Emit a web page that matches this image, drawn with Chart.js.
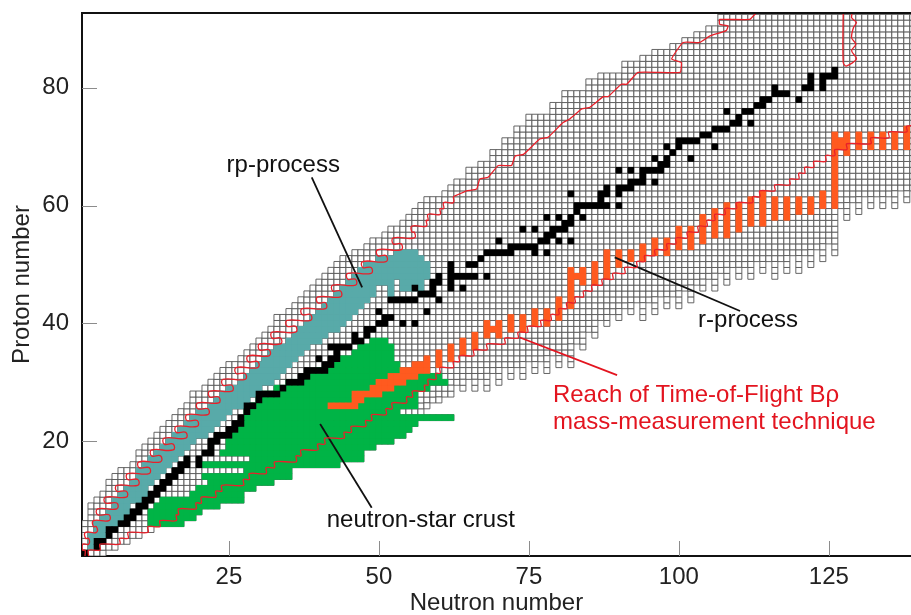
<!DOCTYPE html>
<html>
<head>
<meta charset="utf-8">
<script src="https://cdn.jsdelivr.net/npm/chart.js@4.4.1/dist/chart.umd.min.js"></script>
<style>
  html, body { margin: 0; padding: 0; background: #fff; }
</style>
</head>
<body>
<canvas id="chart" width="911" height="615"></canvas>
<script>
// ---------- data (N = neutron number, Z = proton number) ----------
const xTicks = [25, 50, 75, 100, 125];
const yTicks = [20, 40, 60, 80];

// known-nuclide grid, one entry per Z starting at Z = 1
const gridNMin = [1,1,1,1,1,1,2,2,2,3, 4,5,5,6,7,9,10,10,11,12, 13,14,15,16,17,18,19,19,21,22,
  23,24,25,27,28,29,30,31,32,33, 33,35,36,37,38,39,40,41,42,43, 44,46,48,49,51,52,54,55,56,57,
  58,61,62,63,65,65,67,69,69,71, 71,73,73,75,75,79,79,81,81,85, 85,87,91,91,94,96,99,101,103,105,
  107,107,107];
const gridNMax = [4,6,8,10,12,17,19,20,23,27, 27,29,32,35,35,43,47,47,49,52, 54,55,56,62,57,57,59,61,61,63,
  67,69,73,77,81,81,83,83,85,85, 87,89,91,95,99,101,103,105,107,111, 117,121,123,125,125,125,125,125,125,127,
  129,135,139,139,139,139,139,139,139,139, 139,139,139,139,139,139,139,139,139,139, 139,139,139,139,139,139,139,139,139,139,
  139,139,139];
// neutron-rich columns that hang below the grid (even N), lowest Z of each
const hangN   = [58,60,62,64,66,68,70,72,74,76,78,80,82,84,86,88,90,92,94,96,98,100,102,104,106,108,110,112,114,116,118,120,122,124,126,128,130,132,134,136,138];
const hangZLo = [26,27,28,29,29,29,30,31,31,32,32,33,33,36,38,40,41,42,41,42,43,43,44,46,46,47,48,48,49,48,49,49,50,51,52,58,59,60,60,60,61];

// r-process path cells [N, Z]
const rProcessCells = [
  [1,1],[3,2],[3,3],[4,3],[5,4],[5,5],[6,5],[7,6],[8,6],[8,7],[9,7],[9,8],[10,8],[10,9],[11,9],[11,10],[12,10],[12,11],
  [13,11],[13,12],[14,12],[14,13],[15,13],
  [15,14],[16,14],[16,15],[17,15],[17,16],[18,16],[18,17],[20,16],[20,17],[21,18],[22,18],[22,19],[22,20],[23,20],
  [23,21],[24,21],[25,21],[25,22],[26,22],[26,23],[27,23],[27,24],[28,25],[28,26],[29,26],[30,27],[30,28],[31,28],[32,28],[33,28],[34,29],[35,30],
  [36,30],[37,30],[37,31],[38,31],[38,32],[39,32],[40,32],[41,32],[41,33],[42,33],[40,34],[42,34],[43,34],[43,35],
  [43,36],[44,36],[42,36],[45,36],[46,37],[46,38],[47,37],[48,38],[48,39],[49,39],[50,40],[51,40],[51,41],[52,41],[50,42],
  [52,44],[53,44],[54,44],[55,44],[56,44],[54,40],[56,40],[58,42],[56,46],[57,45],[58,45],[59,45],[59,46],[59,47],[60,47],[60,48],
  [60,44],[62,46],[62,47],[62,48],[62,49],[62,50],[63,48],[64,48],[65,48],[66,48],[64,46],[68,48],[65,50],[66,50],[67,51],
  [68,52],[69,52],[70,52],[71,52],[72,52],[70,54],[72,53],[73,53],[74,53],[75,53],[76,53],[74,56],[76,56],[76,52],
  [78,52],[78,58],[80,58],[80,54],[82,54],[77,54],[78,54],[78,55],[79,55],[79,56],[80,56],[81,56],[81,57],[82,57],[82,58],[83,59],
  [83,60],[84,58],[84,60],[85,60],[86,60],[87,60],[87,61],[88,60],[90,60],[82,62],[87,62],[88,62],[88,63],[90,62],
  [90,63],[91,63],[92,63],[92,64],[93,64],[90,66],[92,66],[94,64],[94,65],[94,66],[95,66],[96,66],[97,66],[97,67],
  [98,67],[98,68],[96,64],[96,68],[99,69],[98,70],[100,70],[100,71],[101,71],[102,71],[103,71],[102,68],[104,72],
  [105,72],[106,73],[107,73],[108,73],[106,70],[108,76],[109,74],[110,74],[110,75],[112,74],[111,76],[112,76],
  [113,77],[114,77],[114,78],[115,78],[116,79],[117,79],[118,79],[116,80],[120,78],[121,80],[122,80],[122,81],
  [122,82],[124,80],[124,81],[124,82],[125,82],[126,82],[126,83]
];

// rp-process rows [Z, Nfrom, Nto]
const rpProcessRows = [
  [2,2,2],[3,2,2],[4,2,4],[5,3,4],[6,3,6],[7,4,7],[8,5,8],[9,6,8],[10,6,10],[11,7,11],[12,8,11],[13,9,12],
  [14,10,13],[15,10,14],[16,11,15],[17,12,16],[18,13,17],[19,14,18],[20,15,19],[21,16,21],[22,17,22],[23,18,23],
  [24,19,24],[25,20,25],[26,22,27],[27,23,28],[28,24,29],[29,25,30],[30,27,32],[31,28,33],[32,29,34],[33,30,35],
  [34,31,36],[35,32,37],[36,33,38],[37,35,40],[38,36,41],[39,37,43],[40,38,44],[41,39,45],[42,40,46],[43,41,47],
  [44,42,48],[45,43,49],[45,52,52],[46,44,49],[46,52,52],[46,54,57],[47,45,52],[47,54,57],[48,46,58],[49,47,58],
  [50,48,58],[51,50,57],[52,53,56]
];

// neutron-star crust rows [Z, Nfrom, Nto]
const crustRows = [
  [6,12,17],[7,12,19],[8,12,20],[9,13,23],[10,14,27],[11,19,27],[12,20,29],[13,22,32],[14,21,35],[15,28,35],
  [16,21,43],[17,29,47],[18,24,47],[19,25,49],[20,25,52],[21,26,54],[22,27,55],[23,28,56],[24,28,62],[25,28,53],
  [26,29,56],[27,30,56],[28,31,56],[29,33,58],[30,35,61],[31,38,51],[31,57,60],[32,40,53],[33,42,53],[34,44,52],
  [35,46,52],[36,47,52],[37,49,51]
];

// time-of-flight reach columns [N, Zfrom, Zto]
const tofColumns = [
  [42,26,26],[43,26,26],[44,26,26],[45,26,26],[46,26,28],[47,27,28],[48,28,28],[49,28,29],[50,28,30],[51,29,30],
  [52,29,31],[53,30,31],[54,30,32],[55,31,32],[56,31,33],[57,32,33],[58,32,34],[60,33,35],[62,34,36],[64,35,37],
  [66,36,38],[68,38,40],[69,39,39],[70,38,40],[72,39,41],[74,39,41],[76,40,42],[78,40,42],[80,41,44],[82,43,49],
  [83,48,48],[84,47,49],[86,47,50],[88,48,52],[90,50,52],[92,51,52],[94,51,53],[96,52,54],[98,52,54],[100,53,56],
  [102,53,56],[104,54,58],[106,55,59],[108,55,60],[110,56,60],[112,57,61],[114,57,62],[116,58,61],[118,58,61],
  [120,59,61],[122,59,61],[124,60,62],[126,60,72],[127,70,71],[128,69,72],[130,70,72],[132,70,72],[134,70,72],
  [136,70,72],[138,70,73]
];

// red limits: proton side edge per Z (from Z = 1), then its upper course as [N, Z]
const protonEdge = [1.0,0.6,1.6,1.1,2.9,2.4,5.0,3.1,6.3,4.4, 7.9,6.3,9.8,8.1,11.7,10.0,13.6,12.1,15.7,14.2,
  17.8,16.2,19.7,18.0,21.5,19.8,23.3,21.8,25.5,24.0, 27.7,26.2,29.8,28.2,31.7,30.1,33.6,32.2,36.1,34.7,
  38.6,37.2,41.1,39.8,43.6,42.3,46.1,44.8,48.7,47.3, 51.2,49.8,53.7,52.4,55.9,55.5,57.9,58.2,60.2,60.8, 62.4];
const protonTop = [[62.4,61.5],[64.6,62.5],[66.3,62.8],[66.8,64.5],[68.2,64.8],[69.9,66.8],[72.1,66.8],[72.7,68.4],
  [74.1,68.7],[76.8,71.3],[78.2,71.6],[80.7,74.1],[81.8,74.7],[83.8,76.4],[85.2,76.7],[87.4,78.5],[88.2,78.5],
  [90.4,80.6],[91.3,80.6],[93.2,82.6],[100.2,82.6],[100.4,84.3],[98.8,84.9],[100.7,87.7],[103.5,87.7],[105.2,88.8],
  [107.9,89.7],[108.2,90.5],[106.8,90.8],[106.8,91.6],[111.8,91.6],[112.7,92.5],[114.3,93.4]];
const heavyLoop = [[127.4,93.4],[127.4,84.3],[127.9,83.7],[129.6,84.9],[128.8,86.3],[129.5,87.4],[128.8,88.5],
  [129.1,90.2],[129.6,91.1],[128.8,91.9],[129.1,93.4]];
// neutron side edge per Z (from Z = 1)
const neutronEdge = [1.6,3.5,6.8,8.2,11.5,13.5,16.2,16.6,19.5,20.4, 22.8,23.8,27.4,28.4,31.2,32.6,36.2,37.0,39.8,41.0,
  44.2,45.4,47.8,48.8,51.2,52.2,54.6,55.6,57.6,58.2, 59.5,60.2,62.4,63.4,65.8,68.0,71.0,73.2,74.8,77.0,
  78.7,80.0,81.3,82.7,84.1,85.5,87.2,89.0,91.0,93.0, 94.3,96.0,98.0,99.5,101.4,103.2,104.7,106.0,107.7,109.6,
  112.3,113.5,116.0,118.5,120.0,121.0,122.5,124.5,126.0,128.0, 132.0,135.0,138.0,141.0];

// annotations
const noteTexts  = ['rp-process', 'r-process', 'Reach of Time-of-Flight B\u03c1', 'mass-measurement technique', 'neutron-star crust'];
const noteN      = [24.6, 103.2, 79.0, 79.0, 41.3];
const noteZ      = [65.7, 39.4, 26.6, 22.1, 5.35];
const noteColors = ['#111', '#111', '#e3141f', '#e3141f', '#111'];
const leaders = [
  { from: [38.8, 64.8], to: [47.2, 46.1], color: '#111' },
  { from: [89.3, 51.2], to: [110.2, 42.1], color: '#111' },
  { from: [73.5, 37.6], to: [89.7, 31.2], color: '#e3141f' },
  { from: [40.2, 22.9], to: [48.8, 8.7], color: '#111' }
];

const FONT = '"Liberation Sans", Arial, sans-serif';

// ---------- build point lists ----------
const gridCells = [];
gridNMin.forEach((n0, i) => {
  for (let n = n0; n <= gridNMax[i]; n++) gridCells.push({ x: n, y: i + 1 });
});
hangN.forEach((n, i) => {
  let z = hangZLo[i];
  while (z <= gridNMax.length && !(gridNMax[z - 1] >= n && gridNMin[z - 1] <= n)) {
    gridCells.push({ x: n, y: z });
    z++;
  }
});
const rowCells = rows => rows.flatMap(([z, a, b]) => { const o = []; for (let n = a; n <= b; n++) o.push({ x: n, y: z }); return o; });
const colCells = cols => cols.flatMap(([n, a, b]) => { const o = []; for (let z = a; z <= b; z++) o.push({ x: n, y: z }); return o; });
const stairs = edges => edges.flatMap((e, i) => [{ x: e, y: i + 0.5 }, { x: e, y: i + 1.5 }]);

const cellSide = chart => Math.abs(chart.scales.x.getPixelForValue(1) - chart.scales.x.getPixelForValue(0));
const gridRadius = c => cellSide(c.chart) / Math.SQRT2;
const fillRadius = c => (cellSide(c.chart) + 0.6) / Math.SQRT2;

function cellSet(label, data, color, order) {
  return { label, data, pointStyle: 'rect', pointRadius: fillRadius, backgroundColor: color,
    borderWidth: 0, order, clip: 0 };
}
function lineSet(label, data, color, width, tension) {
  return { label, data, showLine: true, pointRadius: 0, borderColor: color, borderWidth: width,
    tension, fill: false, order: 1, clip: 0 };
}

const framePlugin = {
  id: 'frame',
  afterDatasetsDraw(chart) {
    const { ctx, chartArea: a, scales: { x, y } } = chart;
    ctx.save();
    ctx.strokeStyle = '#8c8c8c';
    ctx.lineWidth = 1;
    xTicks.forEach(v => {
      const px = Math.round(x.getPixelForValue(v)) + 0.5;
      ctx.beginPath(); ctx.moveTo(px, a.bottom); ctx.lineTo(px, a.bottom - 15); ctx.stroke();
    });
    yTicks.forEach(v => {
      const py = Math.round(y.getPixelForValue(v)) + 0.5;
      ctx.beginPath(); ctx.moveTo(a.left, py); ctx.lineTo(a.left + 15, py); ctx.stroke();
    });
    ctx.strokeStyle = '#111';
    ctx.lineWidth = 2;
    ctx.beginPath(); ctx.moveTo(a.left, a.top); ctx.lineTo(a.right, a.top); ctx.stroke();

    ctx.font = '24px ' + FONT;
    ctx.textAlign = 'left';
    ctx.textBaseline = 'alphabetic';
    noteTexts.forEach((t, i) => {
      ctx.fillStyle = noteColors[i];
      ctx.fillText(t, x.getPixelForValue(noteN[i]), y.getPixelForValue(noteZ[i]));
    });
    ctx.restore();
  }
};

const datasets = [
  { label: 'grid', data: gridCells, pointStyle: 'rect', pointRadius: gridRadius, backgroundColor: '#fff',
    borderColor: '#555', borderWidth: 0.9, order: 9, clip: 0 },
  cellSet('neutron-star crust', rowCells(crustRows), '#00b446', 8),
  cellSet('rp-process', rowCells(rpProcessRows), '#58aaa9', 7),
  cellSet('TOF reach', colCells(tofColumns), '#ff5a1f', 6),
  cellSet('r-process', rProcessCells.map(([n, z]) => ({ x: n, y: z })), '#000', 5),
  lineSet('proton limit', stairs(protonEdge), '#e8202a', 1.3, 0.45),
  lineSet('proton limit top', protonTop.map(([n, z]) => ({ x: n, y: z })), '#e8202a', 1.3, 0.12),
  lineSet('heavy loop', heavyLoop.map(([n, z]) => ({ x: n, y: z })), '#e8202a', 1.3, 0.3),
  lineSet('neutron limit', stairs(neutronEdge), '#e8202a', 1.3, 0.35),
  ...leaders.map((l, i) => lineSet('leader ' + i, [{ x: l.from[0], y: l.from[1] }, { x: l.to[0], y: l.to[1] }], l.color, 1.8, 0))
];

new Chart(document.getElementById('chart'), {
  type: 'scatter',
  data: { datasets },
  options: {
    responsive: false,
    devicePixelRatio: 1,
    animation: false,
    events: [],
    layout: { padding: { top: 13, right: 0, bottom: 0, left: 0 } },
    plugins: { legend: { display: false }, tooltip: { enabled: false } },
    scales: {
      x: {
        type: 'linear', min: 0.5, max: 138.7,
        afterBuildTicks: s => { s.ticks = xTicks.map(v => ({ value: v })); },
        afterFit: s => { s.height = 59; s.paddingLeft = 0; s.paddingRight = 0; },
        grid: { display: false, drawTicks: false },
        border: { color: '#111', width: 2 },
        ticks: { font: { family: FONT, size: 24 }, color: '#222', padding: 7, maxRotation: 0, autoSkip: false },
        title: { display: true, text: 'Neutron number', color: '#222',
          font: { family: FONT, size: 24, lineHeight: 1 }, padding: { top: 0, bottom: 0 } }
      },
      y: {
        type: 'linear', min: 0.5, max: 92.7,
        afterBuildTicks: s => { s.ticks = yTicks.map(v => ({ value: v })); },
        afterFit: s => { s.width = 82; s.paddingTop = 0; s.paddingBottom = 0; },
        grid: { display: false, drawTicks: false },
        border: { color: '#111', width: 2 },
        ticks: { font: { family: FONT, size: 24 }, color: '#222', padding: 13, autoSkip: false },
        title: { display: true, text: 'Proton number', color: '#222',
          font: { family: FONT, size: 24, lineHeight: 1 }, padding: { top: 10, bottom: 0 } }
      }
    }
  },
  plugins: [framePlugin]
});
</script>
</body>
</html>
